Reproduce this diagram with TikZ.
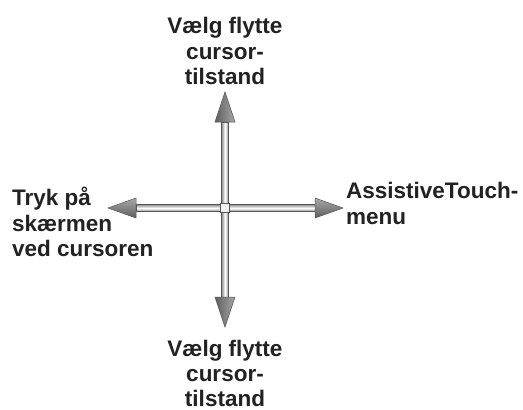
\documentclass[tikz,border=0pt]{standalone}
\usepackage{fontspec}
\setmainfont{Liberation Sans}
\usetikzlibrary{calc}
\definecolor{txt}{HTML}{222222}
\definecolor{edge}{HTML}{555555}
\definecolor{headd}{HTML}{5E5E5E}
\definecolor{headl}{HTML}{A8A8A8}
\begin{document}
\begin{tikzpicture}[x=1pt,y=-1pt,
  lbl/.style={inner sep=0pt, text=txt, font=\fontsize{22.5}{25.5}\selectfont\bfseries},
  lblb/.style={lbl, font=\fontsize{22.5}{25}\selectfont\bfseries},
  shaftline/.style={draw=edge, line width=0.6pt},
  headline/.style={draw=edge, line width=0.5pt}]
\useasboundingbox[fill=white] (0,0) rectangle (523,410);
% coordinates
\coordinate (ct) at (225,208);
\coordinate (ut) at (225,92);   \coordinate (ub) at (225,122);
\coordinate (dt) at (225,327);  \coordinate (db) at (225,297);
\coordinate (lt) at (108,208);  \coordinate (lb) at (136,208);
\coordinate (rt) at (343,208);  \coordinate (rb) at (315,208);
% shafts
\shade[left color=gray!90, right color=gray!90, middle color=white] ($(ct)+(-3.5,0)$) rectangle ($(ub)+(3.5,0)$);
\draw[shaftline] ($(ct)+(-3.5,0)$) rectangle ($(ub)+(3.5,0)$);
\shade[left color=gray!90, right color=gray!90, middle color=white] ($(ct)+(-3.5,0)$) rectangle ($(db)+(3.5,0)$);
\draw[shaftline] ($(ct)+(-3.5,0)$) rectangle ($(db)+(3.5,0)$);
\shade[top color=gray!90, bottom color=gray!90, middle color=white] ($(ct)+(0,-3.5)$) rectangle ($(lb)+(0,3.5)$);
\draw[shaftline] ($(ct)+(0,-3.5)$) rectangle ($(lb)+(0,3.5)$);
\shade[top color=gray!90, bottom color=gray!90, middle color=white] ($(ct)+(0,-3.5)$) rectangle ($(rb)+(0,3.5)$);
\draw[shaftline] ($(ct)+(0,-3.5)$) rectangle ($(rb)+(0,3.5)$);
% heads
\shade[left color=headd, right color=headl, headline] (ut) -- ($(ub)+(-10,0)$) -- ($(ub)+(10,0)$) -- cycle;
\shade[left color=headd, right color=headl, headline] (dt) -- ($(db)+(-10,0)$) -- ($(db)+(10,0)$) -- cycle;
\shade[top color=headl, bottom color=headd, headline] (lt) -- ($(lb)+(0,-10)$) -- ($(lb)+(0,10)$) -- cycle;
\shade[top color=headl, bottom color=headd, headline] (rt) -- ($(rb)+(0,-10)$) -- ($(rb)+(0,10)$) -- cycle;
% centre
\node[draw=edge, fill=gray!10, line width=1.4pt, minimum size=9pt, inner sep=0pt] (c) at (ct) {};
% labels
\node[lbl, anchor=north, align=center] (top) at (225,17) {Vælg flytte\\cursor-\\tilstand};
\node[lblb, anchor=north, align=center] (bot) at (225,340) {Vælg flytte\\cursor-\\tilstand};
\node[lbl, anchor=north west, align=left] (left) at (12,187) {Tryk på\\skærmen\\ved cursoren};
\node[lbl, anchor=north west, align=left] (right) at (346,182) {AssistiveTouch-\\menu};
\end{tikzpicture}
\end{document}
